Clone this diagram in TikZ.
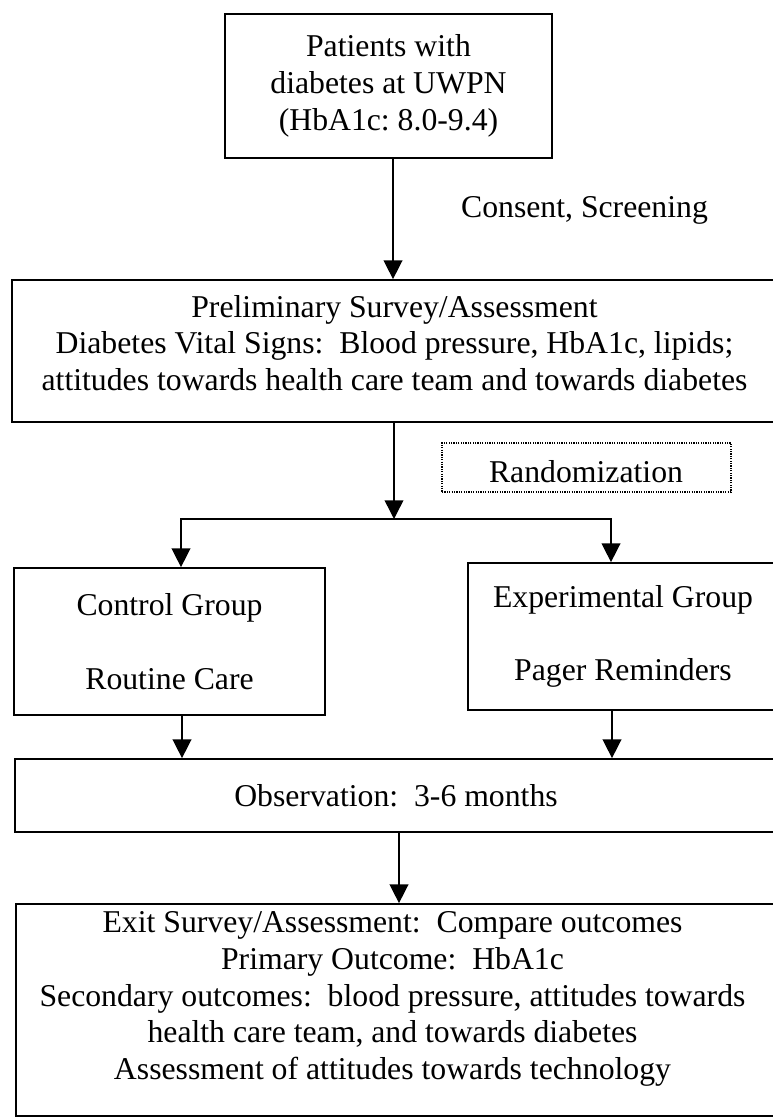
\documentclass[tikz,border=0pt]{standalone}
\usepackage{fontspec}
\setmainfont{Liberation Serif}
\usetikzlibrary{arrows.meta}
\frenchspacing
\begin{document}
\begin{tikzpicture}[x=0.75pt,y=-0.75pt,
  box/.style={draw=black, line width=1.3pt, rectangle, inner sep=0pt},
  txt/.style={align=center, inner sep=0pt, font=\fontsize{23.8pt}{27.6pt}\selectfont},
  arr/.style={line width=1.1pt, -{Triangle[width=14pt,length=14pt]}},
  dotbox/.style={draw=black, line width=0.8pt, dash pattern=on 0.9pt off 0.9pt, rectangle, inner sep=0pt}]
\clip (0,0) rectangle (773,1120);
\fill[white] (0,0) rectangle (773,1120);

% boxes
\node[box, txt, minimum width=327*0.75pt, minimum height=144*0.75pt] (top) at (388.5,86)
  {Patients with\\diabetes at UWPN\\(HbA1c: 8.0-9.4)};
\node[txt] (consent) at (584.5,210) {Consent, Screening};

\node[box, minimum width=765*0.75pt, minimum height=142*0.75pt] (prelim) at (394.5,351) {};
\node[txt] (prelimtxt) at (394.5,343)
  {Preliminary Survey/Assessment\\Diabetes Vital Signs:\ \ Blood pressure, HbA1c, lipids;\\attitudes towards health care team and towards diabetes};

\node[dotbox, minimum width=289*0.75pt, minimum height=49*0.75pt] (rand) at (586.5,467.5) {};
\node[txt, anchor=base] (randtxt) at (586,482) {Randomization};

\node[box, txt, minimum width=311*0.75pt, minimum height=147*0.75pt] (ctrl) at (169.5,641.5)
  {Control Group\\[27.6pt]Routine Care};
\node[box, txt, minimum width=310*0.75pt, minimum height=147*0.75pt] (exp) at (623,636.5)
  {Experimental Group\\[27.6pt]Pager Reminders};

\node[box, txt, minimum width=762*0.75pt, minimum height=73*0.75pt] (obs) at (396,795.5)
  {Observation:\ \ 3-6 months};

\node[box, minimum width=762*0.75pt, minimum height=212*0.75pt] (exit) at (397,1010) {};
\node[txt] (exittxt) at (392.5,999)
  {Exit Survey/Assessment:\ \ Compare outcomes\\Primary Outcome:\ \ HbA1c\\Secondary outcomes:\ \ blood pressure, attitudes towards\\health care team, and towards diabetes\\Assessment of attitudes towards technology};

% connector x positions
\coordinate (x1) at (393,0);
\coordinate (split) at (394,519);
\coordinate (xL) at (181,0);
\coordinate (xR) at (611,0);
\coordinate (xL2) at (182,0);
\coordinate (xR2) at (612,0);
\coordinate (x4) at (399,0);

% connectors
\draw[arr] (top.south -| x1) -- (prelim.north -| x1);
\draw[arr] (prelim.south -| split) -- (split);
\draw[arr] (split) -| (ctrl.north -| xL);
\draw[arr] (split) -| (exp.north -| xR);
\draw[arr] (ctrl.south -| xL2) -- (obs.north -| xL2);
\draw[arr] (exp.south -| xR2) -- (obs.north -| xR2);
\draw[arr] (obs.south -| x4) -- (exit.north -| x4);
\end{tikzpicture}
\end{document}
